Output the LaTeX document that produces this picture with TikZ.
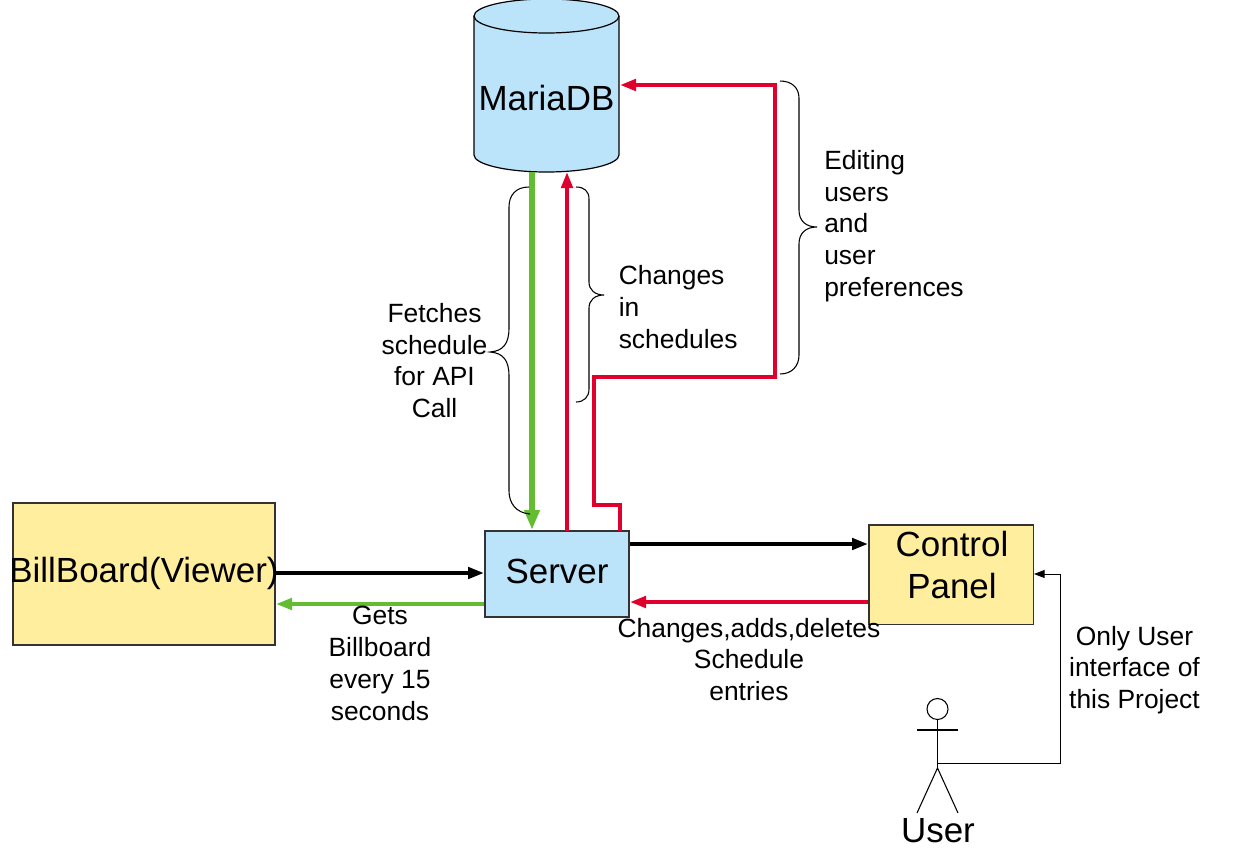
\documentclass[tikz,border=0pt]{standalone}
\usepackage{fontspec}
\setmainfont{Liberation Sans}
\usetikzlibrary{arrows.meta}
\definecolor{boxblue}{HTML}{BBE3FA}
\definecolor{boxyellow}{HTML}{FFEE9E}
\definecolor{edgered}{HTML}{E0002D}
\definecolor{edgegreen}{HTML}{64BC33}
\tikzset{
  x=0.75pt,y=-0.75pt,
  boxnode/.style={draw=black!80,line width=0.9pt,inner sep=0pt,outer sep=0pt,font=\fontsize{26}{31}\selectfont,align=center},
  lbl/.style={font=\fontsize{19.8}{23.8}\selectfont,align=center,inner sep=0pt},
  leftlbl/.style={lbl,align=left},
  big/.style={font=\fontsize{26.2}{31}\selectfont,inner sep=0pt},
  flow/.style={line width=4.2pt,-{Triangle[length=15pt,width=11pt]}},
  flowthin/.style={line width=2.8pt,-{Triangle[length=12pt,width=8.5pt]}},
  bracket/.style={line width=0.8pt,black},
}
\begin{document}
\begin{tikzpicture}
\useasboundingbox (0,0) rectangle (1233,868);
% boxes
\node[boxnode,fill=boxyellow,minimum width=196.5pt,minimum height=106.5pt,anchor=north west] (bill) at (13,503) {};
\node[big] at (144,573) {BillBoard(Viewer)};
\node[boxnode,fill=boxblue,minimum width=108pt,minimum height=64.5pt,anchor=north west] (server) at (485,531) {};
\node[big] at (557,571) {Server};
\node[boxnode,fill=boxyellow,minimum width=123.5pt,minimum height=74.5pt,anchor=north west] (panel) at (869,525) {};
\node[big,align=center,font=\fontsize{26.2}{31.5}\selectfont] at (952,565) {Control\\Panel};
% database cylinder
\draw[line width=0.9pt,fill=boxblue] (474,16) -- (474,155) arc[start angle=180,end angle=360,x radius=72.5,y radius=-17] -- (619,16) arc[start angle=0,end angle=180,x radius=72.5,y radius=-17] -- cycle;
\draw[line width=0.9pt] (474,16) arc[start angle=180,end angle=360,x radius=72.5,y radius=-17];
\node[big] (db) at (546.5,98) {MariaDB};
% anchor coordinates
\coordinate (dbG) at (532,172);
\coordinate (dbR) at (567,172);
\coordinate (dbE) at (620,85);
\coordinate (srvG) at (532,530);
\coordinate (srvR) at (567,531);
\coordinate (srvE) at (620,531);
\coordinate (srvPo) at (630,544);
\coordinate (srvPi) at (630,602);
\coordinate (panPo) at (868,544);
\coordinate (panPi) at (868,602);
\coordinate (bilO) at (275,573);
\coordinate (srvBi) at (484,573);
\coordinate (srvBo) at (484,604);
\coordinate (bilI) at (276,604);
% connectors
\draw[flow,edgegreen] (dbG) -- (srvG);
\draw[flowthin,edgered] (srvR) -- (dbR);
\draw[flowthin,edgered] (srvE) -- (620,505) -- (594,505) -- (594,377) -- (775,377) -- (775,85) -- (dbE);
\draw[flowthin,black] (srvPo) -- (panPo);
\draw[flowthin,edgered] (panPi) -- (srvPi);
\draw[flowthin,black] (bilO) -- (srvBi);
\draw[flowthin,edgegreen] (srvBo) -- (bilI);
% braces
\draw[bracket] (529,187) .. controls (516,187) and (509,195) .. (509,207) -- (509,328) .. controls (509,344) and (503,351) .. (490,352) .. controls (503,353) and (509,360) .. (509,376) -- (509,491) .. controls (509,503) and (516,513) .. (530,514);
\draw[bracket] (576,187) .. controls (584,187) and (589,191) .. (589,199) -- (589,282) .. controls (589,290) and (595,295) .. (604,295) .. controls (595,295) and (589,300) .. (589,308) -- (589,389) .. controls (589,397) and (584,402) .. (576,402);
\draw[bracket] (780,81) .. controls (792,81) and (799,88) .. (799,98) -- (799,210) .. controls (799,221) and (806,227) .. (817,227) .. controls (806,227) and (799,233) .. (799,244) -- (799,355) .. controls (799,366) and (792,374) .. (780,374);
% labels
\node[lbl] at (434.5,360.5) {Fetches\\schedule\\for API\\Call};
\node[leftlbl,anchor=west] at (618.5,307) {Changes\\in\\schedules};
\node[leftlbl,anchor=west] at (824,226) {Editing\\users\\and\\user\\preferences};
\node[lbl] at (380,663.5) {Gets\\Billboard\\every 15\\seconds};
\node[lbl] at (749,659.5) {Changes,adds,deletes\\Schedule\\entries};
\node[lbl] at (1134.5,670) {Only User\\interface of\\this Project};
% user
\node[draw,circle,line width=0.8pt,minimum size=15.75pt,inner sep=0pt] (head) at (937.5,709) {};
\coordinate (hip) at (937.5,768);
\draw[line width=0.8pt] (head.south) -- (hip);
\draw[line width=0.8pt] (917,730) -- (958,730);
\draw[line width=0.8pt] (917,813) -- (hip) -- (958,813);
\node[big] (user) at (938,831) {User};
\coordinate (userP) at (937,763.5);
\coordinate (panU) at (1034,574);
\draw[line width=0.75pt,-{Triangle[length=8pt,width=6pt]}] (userP) -- (1060.5,763.5) -- (1060.5,574) -- (panU);
\end{tikzpicture}
\end{document}
